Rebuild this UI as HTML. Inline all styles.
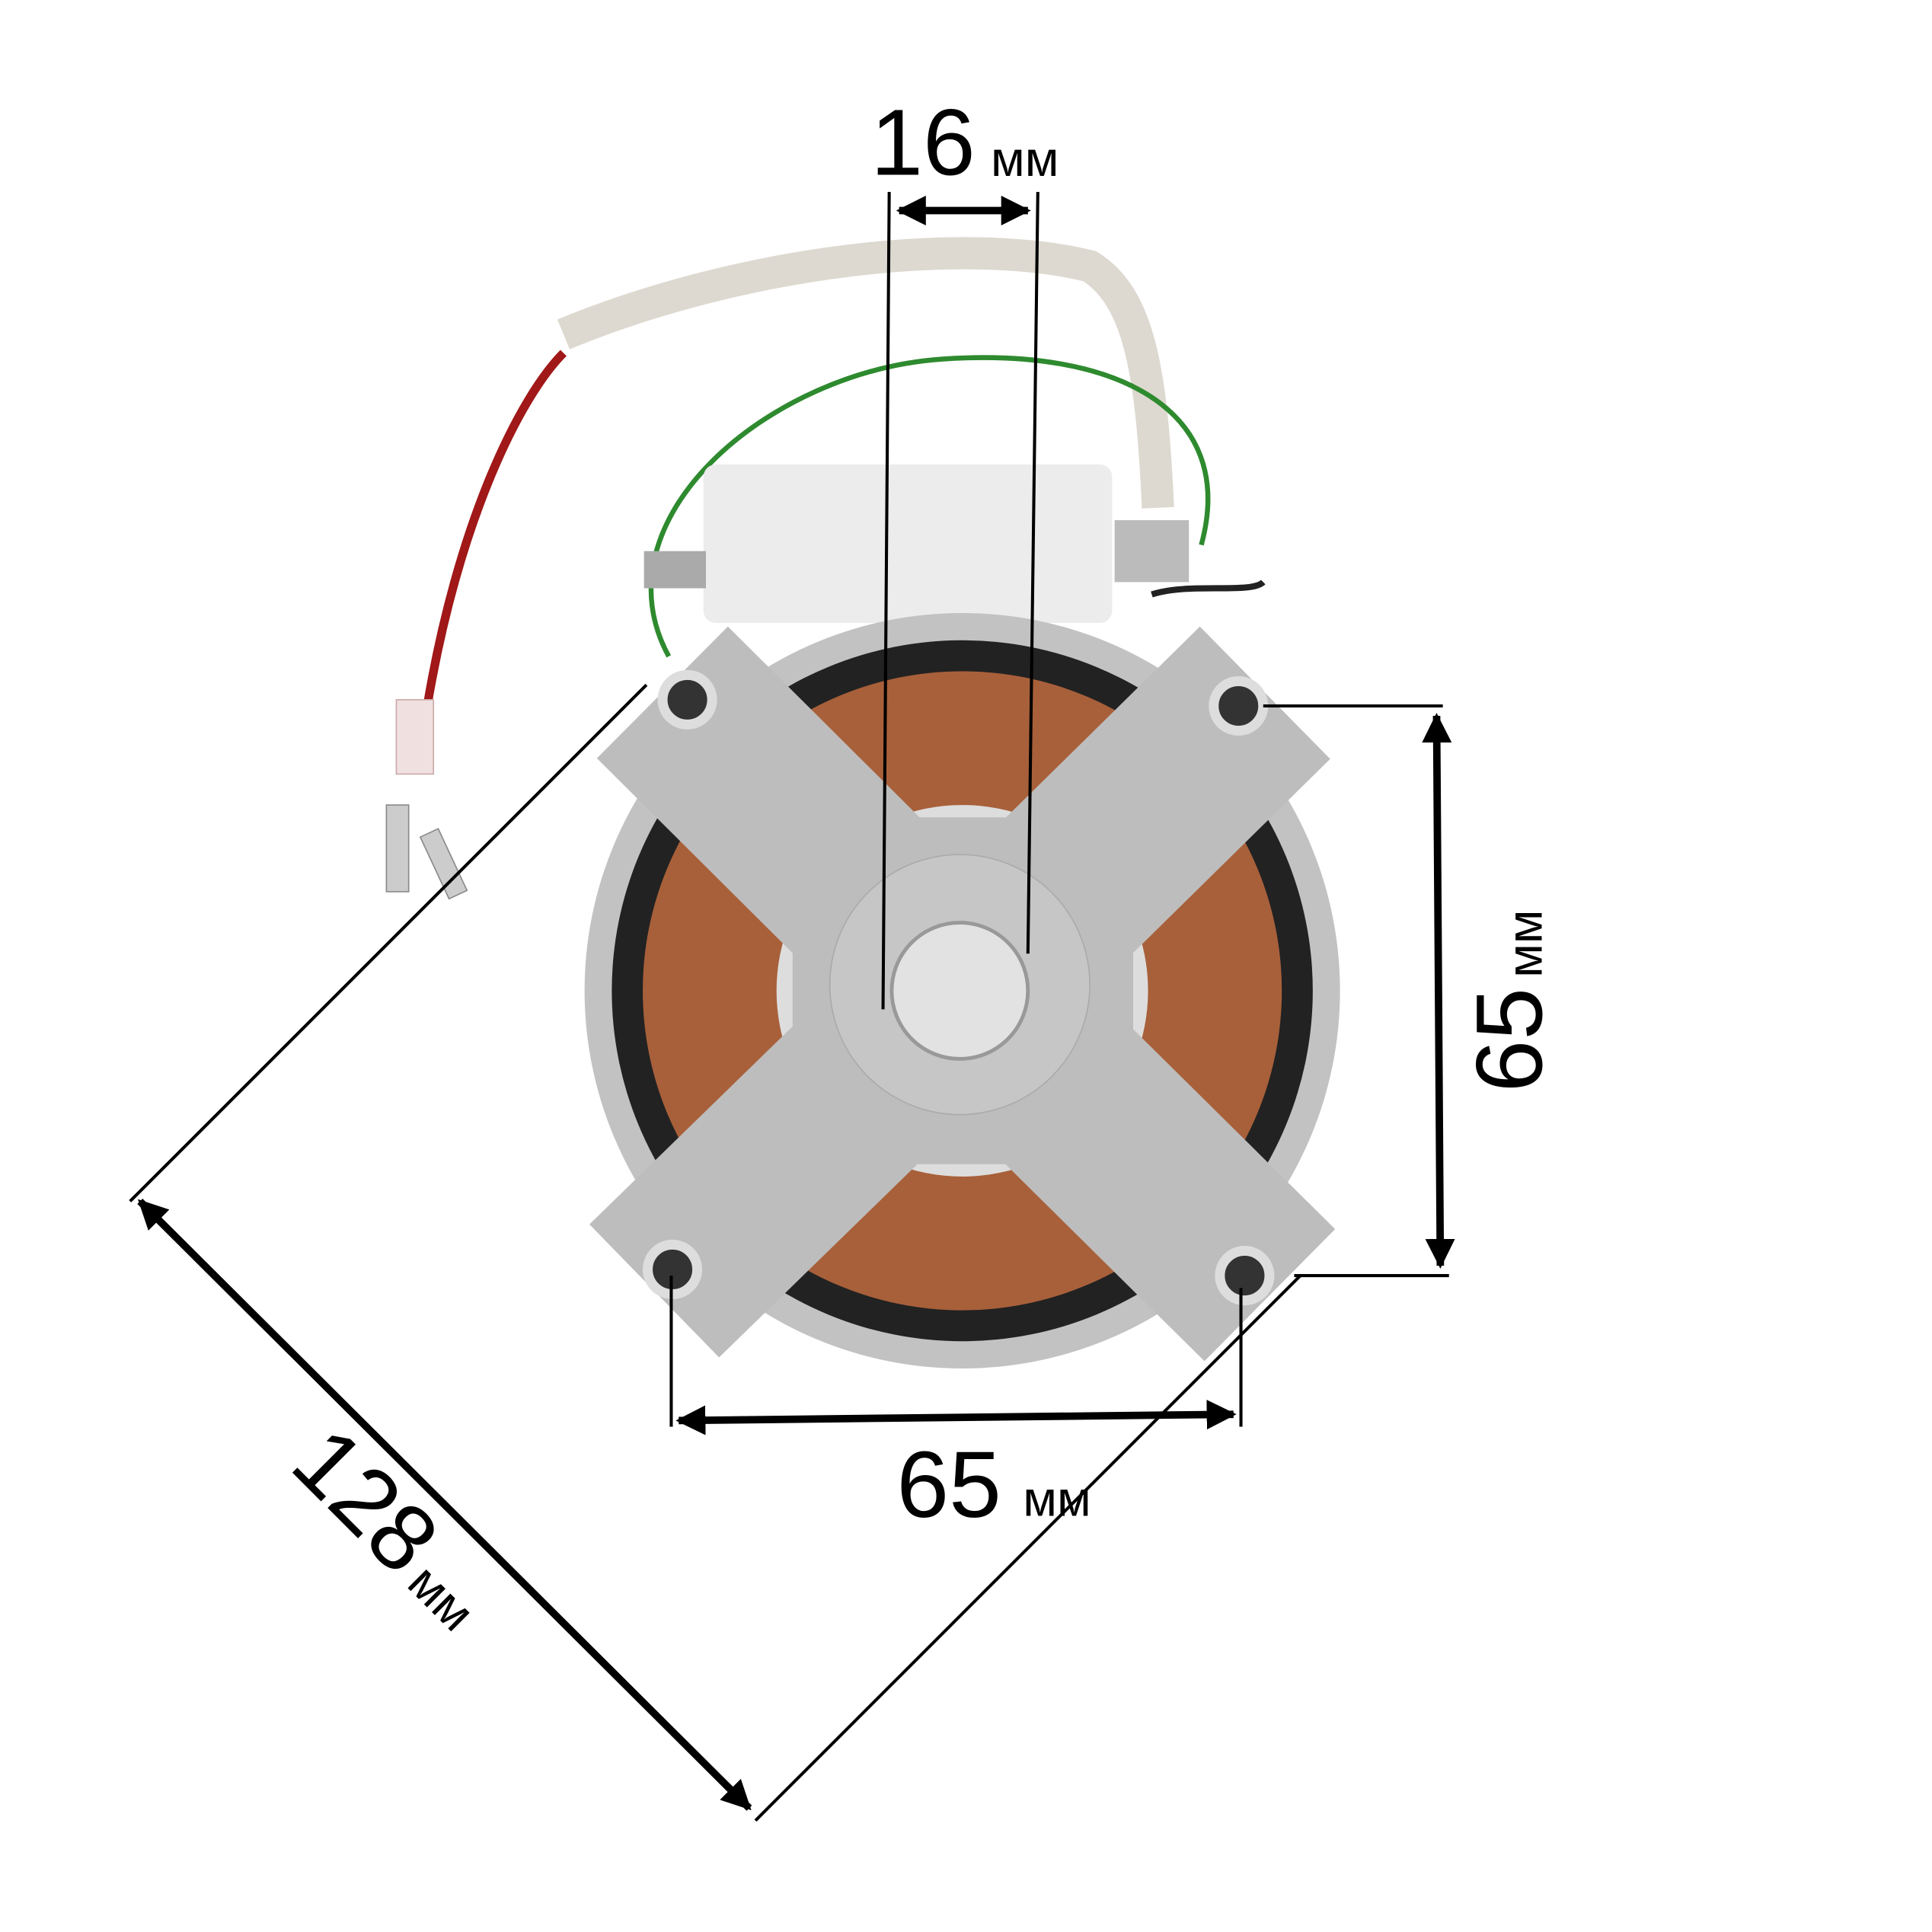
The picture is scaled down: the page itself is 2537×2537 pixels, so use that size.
<!DOCTYPE html>
<html><head><style>html,body{margin:0;padding:0;background:#fff}svg{display:block}</style></head>
<body>
<svg width="2537" height="2537" viewBox="0 0 1560 1560" xmlns="http://www.w3.org/2000/svg" font-family="Liberation Sans, sans-serif">
<defs>
<marker id="a" viewBox="0 0 10 10" refX="9" refY="5" markerWidth="4" markerHeight="4" orient="auto-start-reverse"><path d="M0,0L10,5L0,10z" fill="#000"/></marker>
</defs>
<rect width="1560" height="1560" fill="#fff"/>
<path d="M455,270 C600,210 780,190 880,215 C920,240 930,300 935,410" stroke="#ddd9d0" stroke-width="26" fill="none"/>
<path d="M455,285 C420,320 370,420 345,570" stroke="#a01818" stroke-width="7" fill="none"/>
<path d="M540,530 C480,420 620,300 760,290 C900,280 1000,330 970,440" stroke="#2e8a2e" stroke-width="4" fill="none"/>
<path d="M930,480 C960,470 1010,480 1020,470" stroke="#222" stroke-width="5" fill="none"/>
<rect x="320" y="565" width="30" height="60" fill="#f0e0e0" stroke="#caa"/>
<rect x="312" y="650" width="18" height="70" fill="#ccc" stroke="#888"/>
<rect x="350" y="670" width="16" height="55" fill="#ccc" stroke="#888" transform="rotate(-25 358 697)"/>
<rect x="568" y="375" width="330" height="128" rx="10" fill="#ececec"/>
<rect x="520" y="445" width="50" height="30" fill="#aaa"/>
<rect x="900" y="420" width="60" height="50" fill="#bbb"/>
<circle cx="777" cy="800" r="305" fill="#c2c2c2"/>
<circle cx="777" cy="800" r="283" fill="#222"/>
<circle cx="777" cy="800" r="258" fill="#a8603a"/>
<circle cx="777" cy="800" r="150" fill="#ddd"/>
<g stroke="#bdbdbd" stroke-width="150" stroke-linecap="square">
<line x1="777" y1="800" x2="588" y2="612"/>
<line x1="777" y1="800" x2="968" y2="612"/>
<line x1="777" y1="800" x2="582" y2="990"/>
<line x1="777" y1="800" x2="972" y2="993"/>
</g>
<rect x="640" y="660" width="275" height="280" fill="#bdbdbd"/>
<circle cx="775" cy="795" r="105" fill="#c6c6c6" stroke="#aaa"/>
<circle cx="775" cy="800" r="55" fill="#e2e2e2" stroke="#999" stroke-width="3"/>
<g fill="#333" stroke="#ddd" stroke-width="8">
<circle cx="555" cy="565" r="20"/><circle cx="1000" cy="570" r="20"/>
<circle cx="543" cy="1025" r="20"/><circle cx="1005" cy="1030" r="20"/>
</g>
<g stroke="#000" stroke-width="2.5" fill="none">
<line x1="718" y1="155" x2="713" y2="815"/>
<line x1="838" y1="155" x2="830" y2="770"/>
<line x1="1020" y1="570" x2="1165" y2="570"/>
<line x1="1045" y1="1030" x2="1170" y2="1030"/>
<line x1="542" y1="1030" x2="542" y2="1152"/>
<line x1="1002" y1="1040" x2="1002" y2="1152"/>
<line x1="522" y1="553" x2="105" y2="970"/>
<line x1="1050" y1="1030" x2="610" y2="1470"/>
</g>
<g stroke="#000" stroke-width="6" fill="none" marker-start="url(#a)" marker-end="url(#a)">
<line x1="726" y1="170" x2="830" y2="170"/>
<line x1="1160" y1="578" x2="1163" y2="1022"/>
<line x1="548" y1="1147" x2="996" y2="1142"/>
<line x1="113" y1="970" x2="605" y2="1460"/>
</g>
<g fill="#000">
<text x="703" y="141" font-size="76">16</text><text x="800" y="142" font-size="40">мм</text>
<text x="724" y="1225" font-size="76">65</text><text x="826" y="1224" font-size="40">мм</text>
<text transform="translate(1245,882) rotate(-90)" font-size="76">65<tspan font-size="40" dx="8">мм</tspan></text>
<text transform="translate(232,1185) rotate(45)" font-size="76">128<tspan font-size="40" dx="8">мм</tspan></text>
</g>
</svg>
</body></html>
